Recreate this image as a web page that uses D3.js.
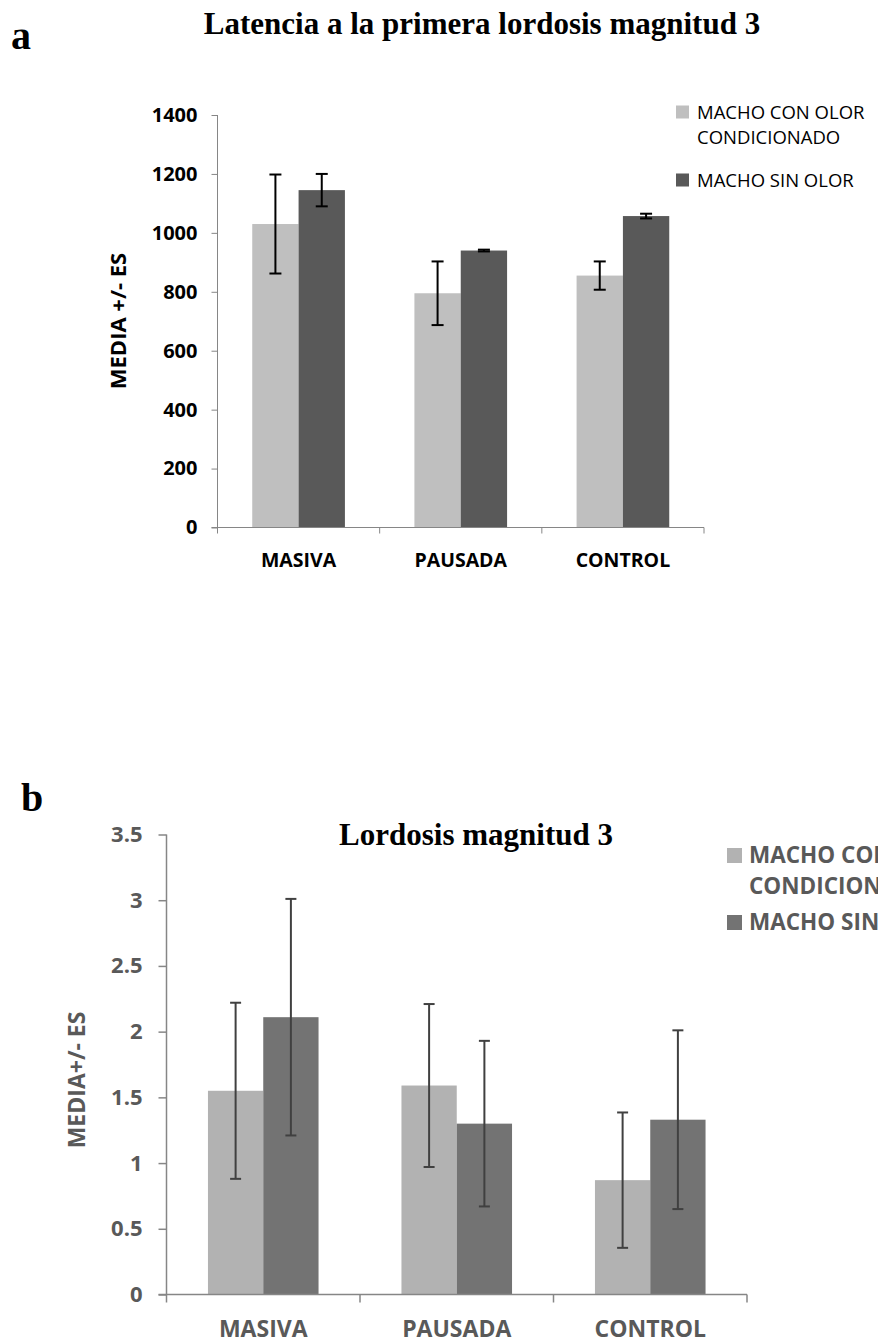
<!DOCTYPE html>
<html>
<head>
<meta charset="utf-8">
<script src="https://cdn.jsdelivr.net/npm/d3@7"></script>
<style>
  body { margin: 0; background: #fff; }
  svg { display: block; }
</style>
</head>
<body>
<svg id="chart" width="878" height="1342"></svg>
<script>

// categories and series
let categories = ['MASIVA', 'PAUSADA', 'CONTROL']
let seriesKeys = ['con', 'sin']

// panel a - latencia
let latConOlor = [1030, 795, 855]
let latConOlorErr = [168, 108, 48]
let latSinOlor = [1145, 940, 1057]
let latSinOlorErr = [55, 3, 8]
let latTicks = [0, 200, 400, 600, 800, 1000, 1200, 1400]

// panel b - lordosis
let lorConOlor = [1.55, 1.59, 0.87]
let lorConOlorErr = [0.67, 0.62, 0.515]
let lorSinOlor = [2.11, 1.30, 1.33]
let lorSinOlorErr = [0.90, 0.63, 0.68]
let lorTicks = [0, 0.5, 1, 1.5, 2, 2.5, 3, 3.5]


let svg = d3.select('#chart')

function drawPanel(p){

	let rows = []
	categories.forEach(function(c, i){
		rows.push({cat: c, key: 'con', v: p.con[i], e: p.conErr[i]})
		rows.push({cat: c, key: 'sin', v: p.sin[i], e: p.sinErr[i]})
	})

	let x = d3.scaleBand().domain(categories).range([p.left, p.right])
	let xs = d3.scaleBand().domain(seriesKeys).range([0, x.bandwidth()]).paddingInner(0).paddingOuter(0.75)
	let y = d3.scaleLinear().domain([0, d3.max(p.ticks)]).range([p.bottom, p.top])

	let g = svg.append('g')

	g.selectAll('.bar')
		.data(rows)
		.enter()
		.append('rect')
		.attr('x', d => x(d.cat) + xs(d.key))
		.attr('y', d => y(d.v))
		.attr('width', xs.bandwidth())
		.attr('height', d => y(0) - y(d.v))
		.attr('fill', d => p.colors[d.key])

	// error bars
	let eb = g.selectAll('.err')
		.data(rows)
		.enter()
		.append('g')
		.attr('stroke', p.errColor)
		.attr('stroke-width', 2)

	eb.append('line')
		.attr('x1', d => x(d.cat) + xs(d.key) + xs.bandwidth() / 2)
		.attr('x2', d => x(d.cat) + xs(d.key) + xs.bandwidth() / 2)
		.attr('y1', d => y(d.v - d.e))
		.attr('y2', d => y(d.v + d.e))

	eb.selectAll('.cap')
		.data(d => [[d, d.v - d.e], [d, d.v + d.e]])
		.enter()
		.append('line')
		.attr('x1', d => x(d[0].cat) + xs(d[0].key) + xs.bandwidth() / 2 - p.cap)
		.attr('x2', d => x(d[0].cat) + xs(d[0].key) + xs.bandwidth() / 2 + p.cap)
		.attr('y1', d => y(d[1]))
		.attr('y2', d => y(d[1]))

	// y axis
	let ya = g.append('g')
		.attr('transform', 'translate(' + p.left + ',0)')
		.call(d3.axisLeft(y).tickValues(p.ticks).tickSize(p.tick).tickPadding(p.yPad).tickFormat(d => d))
	ya.select('.domain').attr('stroke', '#868686').attr('stroke-width', p.axisW).attr('d', 'M0,' + p.bottom + 'V' + p.top)
	ya.selectAll('.tick line').attr('stroke', '#868686').attr('stroke-width', p.axisW)
	ya.selectAll('.tick text')
		.attr('font-family', 'Open Sans')
		.attr('font-weight', 'bold')
		.attr('font-size', p.tickFont)
		.attr('fill', p.textColor)

	// x axis, ticks at group boundaries
	g.append('line')
		.attr('x1', p.left - p.tick).attr('x2', p.right)
		.attr('y1', p.bottom).attr('y2', p.bottom)
		.attr('stroke', '#868686').attr('stroke-width', p.axisW)

	g.selectAll('.xtick')
		.data(categories.concat(['end']))
		.enter()
		.append('line')
		.attr('x1', d => d == 'end' ? p.right : x(d))
		.attr('x2', d => d == 'end' ? p.right : x(d))
		.attr('y1', p.bottom)
		.attr('y2', p.bottom + p.tick)
		.attr('stroke', '#868686').attr('stroke-width', p.axisW)

	g.selectAll('.xlab')
		.data(categories)
		.enter()
		.append('text')
		.text(d => d)
		.attr('x', d => x(d) + x.bandwidth() / 2)
		.attr('y', p.catY)
		.attr('text-anchor', 'middle')
		.attr('font-family', 'Open Sans')
		.attr('font-weight', 'bold')
		.attr('font-size', p.catFont)
		.attr('fill', p.textColor)

	// axis title
	g.append('text')
		.text(p.yTitle)
		.attr('transform', 'translate(' + p.yTitleX + ',' + p.yTitleY + ') rotate(-90)')
		.attr('text-anchor', 'middle')
		.attr('font-family', 'Open Sans')
		.attr('font-weight', 'bold')
		.attr('font-size', p.yTitleFont)
		.attr('fill', p.textColor)

	// chart title
	g.append('text')
		.text(p.title)
		.attr('x', p.titleX)
		.attr('y', p.titleY)
		.attr('text-anchor', 'middle')
		.attr('font-family', 'Liberation Serif')
		.attr('font-weight', 'bold')
		.attr('font-size', 31)
		.attr('fill', '#000')

	// panel letter
	g.append('text')
		.text(p.letter)
		.attr('x', p.letterX)
		.attr('y', p.letterY)
		.attr('font-family', 'Liberation Serif')
		.attr('font-weight', 'bold')
		.attr('font-size', 40)
		.attr('fill', '#000')

	// legend
	let lg = g.append('g').attr('transform', 'translate(' + p.legX + ',' + p.legY + ')')
	let legItems = [
		{key: 'con', lines: ['MACHO CON OLOR', 'CONDICIONADO'], dy: 0},
		{key: 'sin', lines: ['MACHO SIN OLOR'], dy: p.legRow}
	]
	let li = lg.selectAll('.leg')
		.data(legItems)
		.enter()
		.append('g')
		.attr('transform', d => 'translate(0,' + d.dy + ')')

	li.append('rect')
		.attr('x', 0)
		.attr('y', -p.legSq)
		.attr('width', p.legSq)
		.attr('height', p.legSq)
		.attr('fill', d => p.colors[d.key])

	li.selectAll('text')
		.data(d => d.lines)
		.enter()
		.append('text')
		.text(d => d)
		.attr('x', p.legSq + p.legGap)
		.attr('y', (d, i) => i * p.legLine)
		.attr('font-family', 'Open Sans')
		.attr('font-weight', p.legWeight)
		.attr('font-size', p.legFont)
		.attr('fill', p.textColor)
}


drawPanel({
	con: latConOlor, conErr: latConOlorErr,
	sin: latSinOlor, sinErr: latSinOlorErr,
	ticks: latTicks,
	left: 217.5, right: 704, top: 115, bottom: 527.5,
	colors: {con: '#bfbfbf', sin: '#595959'},
	errColor: '#000', cap: 6, axisW: 1, tick: 6, yPad: 14,
	tickFont: 20, catFont: 19.5, catY: 566.5,
	textColor: '#000',
	yTitle: 'MEDIA +/- ES', yTitleX: 126, yTitleY: 321, yTitleFont: 22,
	title: 'Latencia a la primera lordosis magnitud 3', titleX: 482, titleY: 34,
	letter: 'a', letterX: 11, letterY: 49,
	legX: 676, legY: 118.5, legSq: 13, legGap: 8, legRow: 68, legLine: 25,
	legFont: 18.5, legWeight: 'normal'
})

drawPanel({
	con: lorConOlor, conErr: lorConOlorErr,
	sin: lorSinOlor, sinErr: lorSinOlorErr,
	ticks: lorTicks,
	left: 166.5, right: 747, top: 834.5, bottom: 1294.5,
	colors: {con: '#b2b2b2', sin: '#737373'},
	errColor: '#404040', cap: 5.5, axisW: 1.5, tick: 8, yPad: 16,
	tickFont: 22, catFont: 23, catY: 1336.5,
	textColor: '#595959',
	yTitle: 'MEDIA+/- ES', yTitleX: 85, yTitleY: 1080, yTitleFont: 23,
	title: 'Lordosis magnitud 3', titleX: 476, titleY: 845,
	letter: 'b', letterX: 21, letterY: 811,
	legX: 727, legY: 863, legSq: 15, legGap: 7, legRow: 67, legLine: 31,
	legFont: 22.5, legWeight: 'bold'
})

</script>
</body>
</html>
